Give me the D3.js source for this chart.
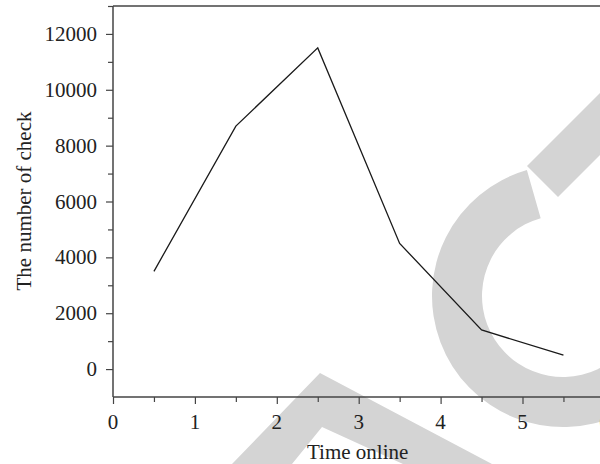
<!DOCTYPE html>
<html>
<head>
<meta charset="utf-8">
<script src="https://cdn.jsdelivr.net/npm/d3@7"></script>
<style>
  html, body { margin: 0; padding: 0; background: #fff; }
  svg { display: block; }
  text { font-family: "Liberation Serif", "Times New Roman", serif; fill: #222; }
</style>
</head>
<body>
<svg id="chart" width="600" height="464"></svg>
<script>
// ---- data ----
const timeOnline = [0.5, 1.5, 2.5, 3.5, 4.5, 5.5];
const checkCount = [3500, 8700, 11500, 4500, 1400, 500];
const xTickValues = [0, 1, 2, 3, 4, 5, 6];
const yTickValues = [0, 2000, 4000, 6000, 8000, 10000, 12000];
const xTitle = "Time online";
const yTitle = "The number of check";

(function () {
const svg = d3.select("#chart");
const mLeft = 113, mTop = 6, mBottom = 397;
const x = d3.scaleLinear().domain([0, 6]).range([mLeft, mLeft + 6 * 81.9]);
const y = d3.scaleLinear().domain([-1000, 13000]).range([mBottom, mTop]);

// ---- watermark (decorative) ----
const wm = svg.append("g").attr("fill", "#d4d4d4");
const deg = Math.PI / 180;
wm.append("path")
  .attr("transform", "translate(563,296)")
  .attr("d", d3.arc().innerRadius(81).outerRadius(131).startAngle(60 * deg).endAngle(344 * deg)());
wm.append("polygon").attr("points", "527,166 558,197 650,105 619,74");
wm.append("polygon").attr("points", "232,464 320,373 492,464 403,464 322,427 292,464");

// ---- axes ----
const fs = 21;
const axisColor = "#444";

// top border
svg.append("line").attr("x1", mLeft).attr("x2", 600).attr("y1", mTop).attr("y2", mTop)
  .attr("stroke", axisColor).attr("stroke-width", 1.5);

// left axis
const yAxis = svg.append("g").attr("transform", `translate(${mLeft},0)`)
  .call(d3.axisLeft(y).tickValues(d3.range(0, 13001, 1000)).tickSize(6).tickSizeOuter(0).tickFormat(""));
yAxis.select(".domain").remove();
yAxis.selectAll(".tick line").attr("stroke", axisColor).attr("stroke-width", 1.2)
  .attr("x2", d => (d % 2000 === 0 ? -7 : -5));
svg.append("line").attr("x1", mLeft).attr("x2", mLeft).attr("y1", mTop).attr("y2", mBottom)
  .attr("stroke", axisColor).attr("stroke-width", 1.5);
svg.append("g").selectAll("text").data(yTickValues).join("text")
  .attr("x", mLeft - 16).attr("y", d => y(d)).attr("dy", "0.34em")
  .attr("text-anchor", "end").attr("font-size", fs).text(d => d);

// bottom axis
const xAxis = svg.append("g").attr("transform", `translate(0,${mBottom})`)
  .call(d3.axisBottom(x).tickValues(d3.range(0, 6.01, 0.5)).tickSize(7).tickSizeOuter(0).tickFormat(""));
xAxis.select(".domain").remove();
xAxis.selectAll(".tick line").attr("stroke", axisColor).attr("stroke-width", 1.2)
  .attr("y2", d => (d % 1 === 0 ? 7 : 5));
svg.append("line").attr("x1", mLeft).attr("x2", 600).attr("y1", mBottom).attr("y2", mBottom)
  .attr("stroke", axisColor).attr("stroke-width", 1.5);
svg.append("g").selectAll("text").data(xTickValues).join("text")
  .attr("x", d => x(d)).attr("y", 429)
  .attr("text-anchor", "middle").attr("font-size", fs).text(d => d);

// titles
svg.append("text").attr("x", x(3) - 1).attr("y", 459).attr("text-anchor", "middle")
  .attr("font-size", fs).text(xTitle);
svg.append("text").attr("transform", `translate(31,201) rotate(-90)`)
  .attr("text-anchor", "middle").attr("font-size", fs).text(yTitle);

// ---- data line ----
const pts = timeOnline.map((t, i) => [t, checkCount[i]]);
svg.append("path").datum(pts)
  .attr("fill", "none").attr("stroke", "#1a1a1a").attr("stroke-width", 1.3)
  .attr("d", d3.line().x(d => x(d[0])).y(d => y(d[1])));
})();
</script>
</body>
</html>
